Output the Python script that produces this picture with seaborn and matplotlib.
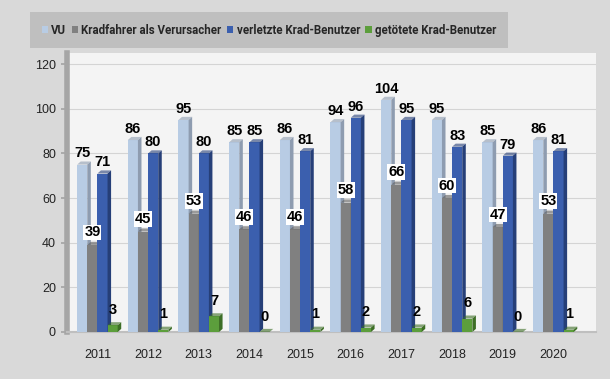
import matplotlib
matplotlib.use("Agg")
import matplotlib.pyplot as plt
import seaborn as sns
import pandas as pd
from matplotlib.patches import Polygon

years = ["2011", "2012", "2013", "2014", "2015", "2016", "2017", "2018", "2019", "2020"]
series = ["VU", "Kradfahrer als Verursacher", "verletzte Krad-Benutzer", "getötete Krad-Benutzer"]
vu = [75, 86, 95, 85, 86, 94, 104, 95, 85, 86]
krad_verursacher = [39, 45, 53, 46, 46, 58, 66, 60, 47, 53]
verletzte = [71, 80, 80, 85, 81, 96, 95, 83, 79, 81]
getoetete = [3, 1, 7, 0, 1, 2, 2, 6, 0, 1]
yticks = [0, 20, 40, 60, 80, 100, 120]

colors = ["#b8cce4", "#808080", "#3b5fae", "#5c9e3c"]
side_colors = ["#8e9cb0", "#5e5e5e", "#263f78", "#3d6e26"]

rows = []
for s, vals in zip(series, [vu, krad_verursacher, verletzte, getoetete]):
    for y, v in zip(years, vals):
        rows.append({"Jahr": y, "Serie": s, "Wert": v})
df = pd.DataFrame(rows)

sns.set_theme(style="whitegrid")
plt.rcParams["font.family"] = ["Liberation Sans", "DejaVu Sans"]

fig = plt.figure(figsize=(6.10, 3.79), dpi=100)
fig.patch.set_facecolor("#d9d9d9")
ax = fig.add_axes([67 / 610, 1 - 332 / 379, (596 - 67) / 610, (332 - 53) / 379])
ax.set_facecolor("#f4f4f4")

sns.barplot(data=df, x="Jahr", y="Wert", hue="Serie", hue_order=series,
            palette=colors, saturation=1, width=0.8, ax=ax, linewidth=0)

ax.set_xlim(-0.6, 9.84)
ax.set_ylim(0, 125)
ax.set_yticks(yticks)
ax.set_xlabel("")
ax.set_ylabel("")
ax.grid(axis="y", color="#d4d4d4", linewidth=0.8)
ax.grid(axis="x", visible=False)
ax.set_axisbelow(True)

# pseudo-3D faces derived from the drawn bars
dx = 0.07
dy = 1.4
for i, cont in enumerate(ax.containers):
    for p in cont.patches:
        x0 = p.get_x()
        w = p.get_width()
        h = p.get_height()
        p.set_zorder(3 + i)
        side = Polygon([(x0 + w, 0), (x0 + w, h), (x0 + w + dx, h + dy), (x0 + w + dx, dy)],
                       closed=True, facecolor=side_colors[i], edgecolor="none", zorder=3 + i)
        top = Polygon([(x0, h), (x0 + w, h), (x0 + w + dx, h + dy), (x0 + dx, h + dy)],
                      closed=True, facecolor=side_colors[i], alpha=0.6, edgecolor="none", zorder=3 + i)
        ax.add_patch(side)
        ax.add_patch(top)

label_font = dict(fontsize=10.5, fontweight="bold", color="black")
for i, cont in enumerate(ax.containers):
    if i == 1:
        ax.bar_label(cont, padding=4, zorder=10,
                     bbox=dict(facecolor="white", edgecolor="none", pad=0.6), **label_font)
    elif i == 3:
        ax.bar_label(cont, padding=6, zorder=10, **label_font)
    else:
        ax.bar_label(cont, padding=3, zorder=10, **label_font)

for t in ax.texts:
    t.set_clip_on(False)

for sp in ["top", "right"]:
    ax.spines[sp].set_visible(False)
ax.spines["left"].set_color("#a6a6a6")
ax.spines["left"].set_linewidth(4)
ax.spines["bottom"].set_color("#bfbfbf")
ax.spines["bottom"].set_linewidth(1.5)
ax.tick_params(axis="y", labelsize=9, colors="#222222", left=True, length=4, color="#a6a6a6", pad=4)
ax.tick_params(axis="x", labelsize=9, colors="#222222", pad=6, bottom=False)

handles, labels = ax.get_legend_handles_labels()
ax.get_legend().remove()
leg = fig.legend(handles, labels, ncol=4, loc="upper left",
                 bbox_to_anchor=(30 / 610, 1 - 12 / 379),
                 frameon=True, fancybox=False, facecolor="#bfbfbf", edgecolor="none",
                 framealpha=1, handlelength=0.55, handleheight=0.55, handletextpad=0.3,
                 columnspacing=0.45, borderpad=1.0, borderaxespad=0,
                 prop=dict(family=["Roboto", "Liberation Sans", "DejaVu Sans"],
                           weight="bold", size=8.3))

fig.savefig("out.png", dpi=100, facecolor=fig.get_facecolor())
